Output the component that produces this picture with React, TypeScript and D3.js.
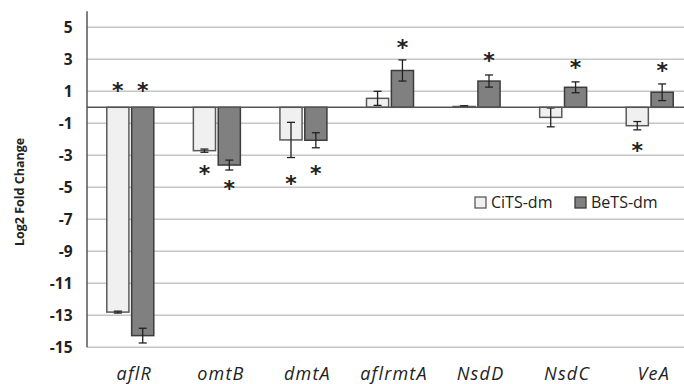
import React, { useRef, useEffect } from 'react';
import * as d3 from 'd3';

const genes = ['aflR', 'omtB', 'dmtA', 'aflrmtA', 'NsdD', 'NsdC', 'VeA'];
const series = ['CiTS-dm', 'BeTS-dm'];
const citsValues = [-12.8, -2.71, -2.04, 0.56, 0.05, -0.63, -1.15];
const citsErrors = [0.06, 0.1, 1.1, 0.44, 0.05, 0.59, 0.26];
const betsValues = [-14.27, -3.61, -2.06, 2.3, 1.64, 1.25, 0.94];
const betsErrors = [0.46, 0.31, 0.47, 0.66, 0.38, 0.34, 0.52];
// where the significance stars sit (in log2 units), null = no star
const citsStars = [1.4, -3.81, -4.44, null, null, null, -2.36];
const betsStars = [1.4, -4.75, -3.77, 4.1, 3.27, 2.85, 2.64];
const yTicks = [5, 3, 1, -1, -3, -5, -7, -9, -11, -13, -15];

const fills = ['#f0f0f0', '#808080'];
const strokes = ['#5a5a5a', '#3c3c3c'];

const Chart = () => {
  const ref = useRef<SVGSVGElement>(null);

  useEffect(() => {
    const svg = d3.select(ref.current);
    svg.selectAll('*').remove();

    const width = 684;
    const height = 384;
    const left = 87;

    const y = d3.scaleLinear().domain([-15, 6]).range([347.3, 11.3]);
    const x0 = d3.scaleBand().domain(genes).range([left, 693]);
    const x1 = d3.scaleBand().domain(series).range([-23.5, 23.5]).paddingInner(0.11);

    const rows = genes.map((g, i) => ({
      gene: g,
      bars: [
        { s: series[0], v: citsValues[i], e: citsErrors[i], star: citsStars[i], k: 0 },
        { s: series[1], v: betsValues[i], e: betsErrors[i], star: betsStars[i], k: 1 },
      ],
    }));

    svg.attr('width', width).attr('height', height);

    // gridlines
    svg.append('g')
      .selectAll('line')
      .data(yTicks)
      .enter().append('line')
      .attr('x1', left)
      .attr('x2', width)
      .attr('y1', d => y(d))
      .attr('y2', d => y(d))
      .attr('stroke', '#c6c6c6')
      .attr('stroke-width', 1.5);

    // tick labels
    svg.append('g')
      .selectAll('text')
      .data(yTicks)
      .enter().append('text')
      .attr('x', 72.5)
      .attr('y', d => y(d))
      .attr('dy', '0.36em')
      .attr('text-anchor', 'end')
      .attr('font-family', 'Open Sans')
      .attr('font-weight', 'bold')
      .attr('font-size', 15.5)
      .attr('fill', '#222')
      .text(d => d);

    // bars
    const grp = svg.append('g')
      .selectAll('g')
      .data(rows)
      .enter().append('g')
      .attr('transform', d => `translate(${x0(d.gene)! + x0.bandwidth() / 2},0)`);

    const bar = grp.selectAll('g')
      .data(d => d.bars)
      .enter().append('g');

    bar.append('rect')
      .attr('x', d => x1(d.s)!)
      .attr('width', x1.bandwidth())
      .attr('y', d => y(Math.max(0, d.v)))
      .attr('height', d => Math.abs(y(d.v) - y(0)))
      .attr('fill', d => fills[d.k])
      .attr('stroke', d => strokes[d.k])
      .attr('stroke-width', 1.5);

    const ex = (d: any) => x1(d.s)! + x1.bandwidth() / 2;
    bar.append('line')
      .attr('x1', ex).attr('x2', ex)
      .attr('y1', d => y(d.v + d.e))
      .attr('y2', d => y(d.v - d.e))
      .attr('stroke', '#222')
      .attr('stroke-width', 1.3);
    [1, -1].forEach(sgn => {
      bar.append('line')
        .attr('x1', d => ex(d) - 4).attr('x2', d => ex(d) + 4)
        .attr('y1', d => y(d.v + sgn * d.e))
        .attr('y2', d => y(d.v + sgn * d.e))
        .attr('stroke', '#222')
        .attr('stroke-width', 1.3);
    });

    bar.filter(d => d.star !== null)
      .append('text')
      .attr('x', ex)
      .attr('y', d => y(d.star as number) + 13)
      .attr('text-anchor', 'middle')
      .attr('font-family', 'DejaVu Sans')
      .attr('font-weight', 'bold')
      .attr('font-size', 22)
      .attr('fill', '#222')
      .text('*');

    // zero line and y axis
    svg.append('line')
      .attr('x1', left).attr('x2', width)
      .attr('y1', y(0)).attr('y2', y(0))
      .attr('stroke', '#555').attr('stroke-width', 1.5);
    svg.append('line')
      .attr('x1', left).attr('x2', left)
      .attr('y1', y(6)).attr('y2', y(-15))
      .attr('stroke', '#555').attr('stroke-width', 1.5);

    // category labels
    svg.append('g')
      .selectAll('text')
      .data(genes)
      .enter().append('text')
      .attr('x', d => x0(d)! + x0.bandwidth() / 2 + 4)
      .attr('y', 380)
      .attr('text-anchor', 'middle')
      .attr('font-family', 'Open Sans')
      .attr('font-style', 'italic')
      .attr('font-size', 18)
      .attr('letter-spacing', 1.2)
      .attr('fill', '#222')
      .text(d => d);

    // y title
    svg.append('text')
      .attr('transform', 'translate(24,192) rotate(-90)')
      .attr('text-anchor', 'middle')
      .attr('font-family', 'Open Sans')
      .attr('font-weight', 'bold')
      .attr('font-size', 12.5)
      .attr('fill', '#222')
      .text('Log2 Fold Change');

    // legend
    const legendX = [475, 575];
    const lg = svg.append('g')
      .selectAll('g')
      .data(series)
      .enter().append('g')
      .attr('transform', (d, i) => `translate(${legendX[i]},197)`);
    lg.append('rect')
      .attr('width', 11).attr('height', 11)
      .attr('fill', (d, i) => fills[i])
      .attr('stroke', (d, i) => strokes[i])
      .attr('stroke-width', 1.3);
    lg.append('text')
      .attr('x', 16)
      .attr('y', 10.5)
      .attr('font-family', 'Open Sans')
      .attr('font-size', 16)
      .attr('fill', '#222')
      .text(d => d);
  }, []);

  return <svg ref={ref} style={{ position: 'absolute', left: 0, top: 0 }}></svg>;
};

export default function App() {
  return <Chart />;
}
